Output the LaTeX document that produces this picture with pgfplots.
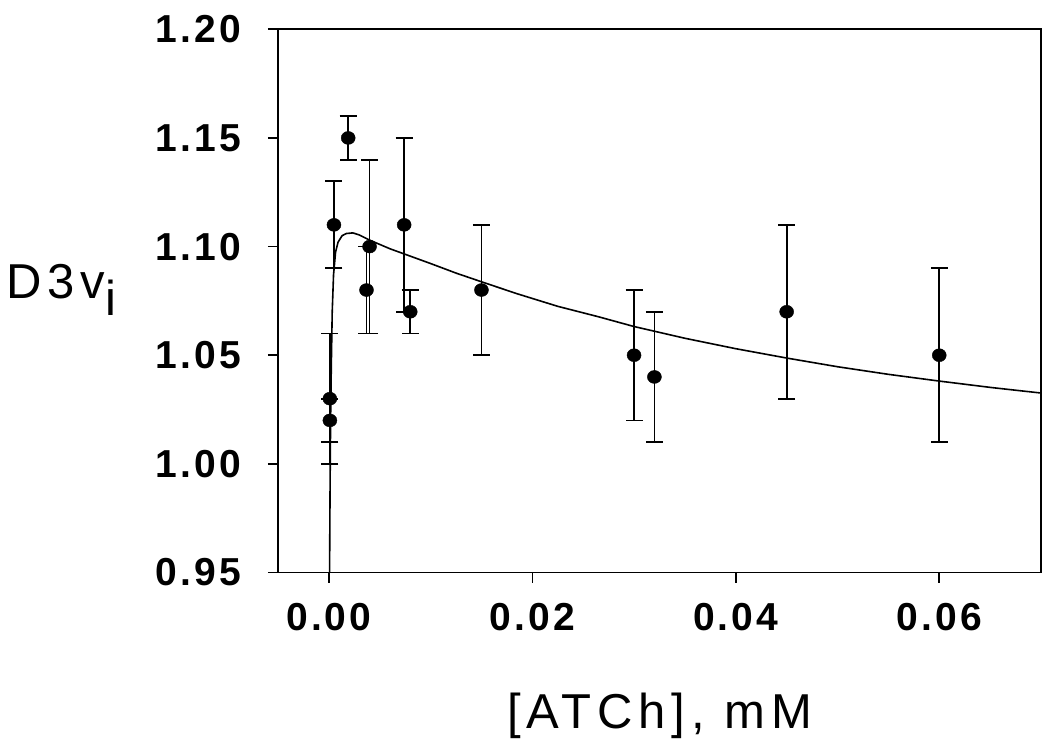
\documentclass[border=0pt]{standalone}
\usepackage{fontspec}
\setmainfont{Liberation Sans}
\newfontfamily\tickfont[LetterSpace=8]{Liberation Sans}
\newfontfamily\labfont[LetterSpace=12]{Liberation Sans}
\usepackage{pgfplots}
\usepackage{pgfplotstable}
\pgfplotsset{compat=1.18}
\pgfplotstableread{
x y e
0.0001 1.03 0.03
0.0001 1.02 0.01
0.0005 1.11 0.02
0.0019 1.15 0.01
0.0037 1.08 0.02
0.0040 1.10 0.04
0.0074 1.11 0.04
0.0080 1.07 0.01
0.0150 1.08 0.03
0.0300 1.05 0.03
0.0320 1.04 0.03
0.0450 1.07 0.04
0.0600 1.05 0.04
}\pts
\pgfplotstableread{
x y
0.00000 0.900
0.00007 0.950
0.00012 0.990
0.00017 1.020
0.00024 1.045
0.00033 1.070
0.00046 1.087
0.00066 1.0975
0.00090 1.1020
0.00130 1.1050
0.00171 1.1060
0.00236 1.1063
0.00302 1.1053
0.0040 1.1030
0.0050 1.1010
0.0060 1.0990
0.0080 1.0956
0.0100 1.0922
0.0125 1.0878
0.0150 1.0838
0.0185 1.0783
0.0225 1.0725
0.0265 1.0677
0.0300 1.0632
0.0350 1.0578
0.0400 1.0530
0.0450 1.0487
0.0500 1.0447
0.0550 1.0412
0.0600 1.0381
0.0650 1.0352
0.0700 1.0326
}\curve
\begin{document}
\begin{tikzpicture}
\path[use as bounding box] (-278pt,-169.5pt) rectangle (772pt,572.5pt);
\begin{axis}[
  at={(0pt,0pt)}, anchor=south west,
  scale only axis, width=763pt, height=543.2pt,
  xmin=-0.005, xmax=0.07, ymin=0.95, ymax=1.20,
  xtick={0,0.02,0.04,0.06},
  ytick={0.95,1.00,1.05,1.10,1.15,1.20},
  scaled ticks=false,
  tick pos=left, tick align=outside, major tick length=10pt,
  axis line style={line width=1.6pt},
  every tick/.style={black, line width=1.6pt},
  /pgf/number format/assume math mode=true,
  /pgf/number format/.cd, fixed, fixed zerofill, precision=2, /pgfplots/.cd,
  ticklabel style={font=\tickfont\bfseries\fontsize{39}{40}\selectfont},
  yticklabel style={inner sep=0pt, xshift=-27pt},
  xticklabel style={inner sep=0pt, yshift=-21pt},
  xlabel={[ATCh], mM},
  ylabel={D3v\lower17pt\hbox{i}},
  every axis x label/.style={at={(axis description cs:0.5,-0.2863)}, anchor=base, font=\labfont\fontsize{49}{50}\selectfont},
  every axis y label/.style={at={(axis description cs:-0.3604,0.5053)}, anchor=base west, font=\labfont\fontsize{49}{50}\selectfont},
]
\addplot[black, line width=1.6pt] table[x=x, y=y] {\curve};
\addplot[draw=none, mark=none, forget plot,
  error bars/.cd, y dir=both, y explicit,
  error bar style={line width=1.8pt, black},
  error mark options={rotate=90, mark size=8.5pt, line width=1.8pt, black}]
  table[x=x, y=y, y error=e] {\pts};
\addplot[only marks, mark=*, mark size=6.5pt, mark options={fill=black, draw=black, xscale=1.08}]
  table[x=x, y=y] {\pts};
\end{axis}
\end{tikzpicture}
\end{document}
